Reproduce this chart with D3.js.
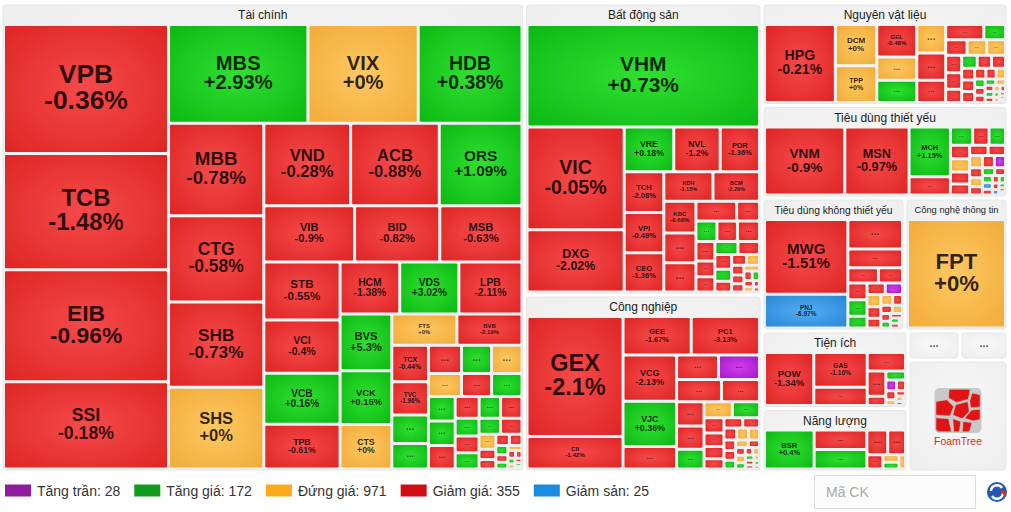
<!DOCTYPE html>
<html>
<head>
<meta charset="utf-8">
<script src="https://cdn.jsdelivr.net/npm/d3@7"></script>
<style>
  body { margin: 0; background: #fff; font-family: "Liberation Sans", Arial, sans-serif; }
</style>
</head>
<body>
<svg id="chart" width="1011" height="512"></svg>
<script>
// ---- data ----
// sector names and their total weight (top level of the map)
const sectorNames = ["Tài chính", "Bất động sản", "Công nghiệp", "Nguyên vật liệu", "Tiêu dùng thiết yếu",
  "Tiêu dùng không thiết yếu", "Công nghệ thông tin", "Tiện ích", "Năng lượng", "...", "...", "FoamTree"];
const sectorCap = [245522, 69350, 42038, 25215, 22755, 19019, 13699, 11315, 9271, 1508, 1392, 11200];

// stocks: [ticker ("" = hidden), weight, status, change]
// status: c = tăng trần, u = tăng, n = đứng giá, d = giảm, f = giảm sàn
const taiChinh = [
  ["VPB", 21138, "d", "-0.36%"], ["TCB", 19082, "d", "-1.48%"], ["EIB", 18342, "d", "-0.96%"], ["SSI", 14312, "d", "-0.18%"],
  ["MBS", 13692, "u", "+2.93%"], ["VIX", 10835, "n", "+0%"], ["HDB", 10195, "u", "+0.38%"],
  ["MBB", 8740, "d", "-0.78%"], ["CTG", 8170, "d", "-0.58%"], ["SHB", 8075, "d", "-0.73%"], ["SHS", 7743, "n", "+0%"],
  ["VND", 7100, "d", "-0.28%"], ["ACB", 7250, "d", "-0.88%"], ["ORS", 6765, "u", "+1.09%"],
  ["VIB", 5068, "d", "-0.9%"], ["BID", 4760, "d", "-0.82%"], ["MSB", 4592, "d", "-0.63%"],
  ["STB", 4408, "d", "-0.55%"], ["VCI", 4028, "d", "-0.4%"], ["VCB", 3876, "u", "+0.16%"], ["TPB", 3382, "d", "-0.61%"],
  ["HCM", 3094, "d", "-1.38%"], ["VDS", 3068, "u", "+3.02%"], ["LPB", 3276, "d", "-2.11%"],
  ["BVS", 2910, "u", "+5.3%"], ["VCK", 2755, "u", "+0.15%"], ["CTS", 2292, "n", "+0%"],
  ["FTS", 2015, "n", "+0%"], ["BVB", 2015, "d", "-2.19%"],
  ["TCX", 1332, "d", "-0.44%"], ["TVC", 1205, "d", "-1.96%"], ["", 1040, "u"], ["", 931, "u"],
  ["", 924, "d"], ["", 840, "u"], ["", 854, "n"],
  ["", 759, "n"], ["", 690, "d"], ["", 700, "u"],
  ["", 649, "u"], ["", 649, "u"], ["", 623, "d"],
  ["", 517, "d"], ["", 462, "u"], ["", 462, "d"],
  ["", 420, "u"], ["", 396, "d"], ["", 384, "u"],
  ["", 344, "u"], ["", 344, "d"],
  ["", 250, "n"], ["", 170, "d"], ["", 160, "d"], ["", 150, "d"], ["", 140, "d"], ["", 110, "u"], ["", 90, "d"],
  ["", 80, "u"], ["", 70, "n"], ["", 60, "d"], ["", 50, "d"], ["", 40, "u"], ["", 35, "n"], ["", 30, "d"], ["", 25, "u"], ["", 20, "d"]
];
const batDongSan = [
  ["VHM", 23900, "u", "+0.73%"], ["VIC", 10013, "d", "-0.05%"], ["DXG", 6065, "d", "-2.02%"],
  ["VRE", 2219, "u", "+0.18%"], ["NVL", 2079, "d", "-1.2%"], ["PDR", 1760, "d", "-1.36%"],
  ["TCH", 1620, "d", "-2.08%"], ["VPI", 1600, "d", "-0.49%"], ["CEO", 1560, "d", "-1.36%"],
  ["KDH", 1452, "d", "-1.15%"], ["BCM", 1374, "d", "-2.29%"],
  ["KBC", 1027, "d", "-0.68%"], ["", 955, "d"], ["", 943, "d"],
  ["", 814, "d"], ["", 457, "d"],
  ["", 430, "u"], ["", 420, "d"], ["", 451, "d"],
  ["", 370, "d"], ["", 300, "d"], ["", 290, "d"],
  ["", 300, "u"], ["", 280, "d"], ["", 250, "d"], ["", 200, "u"], ["", 180, "d"], ["", 160, "d"], ["", 140, "n"],
  ["", 120, "d"], ["", 110, "d"], ["", 100, "d"], ["", 90, "n"], ["", 80, "d"], ["", 70, "u"], ["", 60, "d"],
  ["", 50, "n"], ["", 40, "d"], ["", 30, "d"]
];
const congNghiep = [
  ["GEX", 11269, "d", "-2.1%"], ["CII", 3062, "d", "-1.42%"],
  ["GEE", 2573, "d", "-1.67%"], ["PC1", 2576, "d", "-3.13%"],
  ["VCG", 2420, "d", "-2.13%"], ["VJC", 2370, "u", "+0.36%"], ["", 1180, "d"],
  ["", 1001, "d"], ["", 979, "c"],
  ["", 983, "d"], ["", 832, "d"],
  ["", 650, "d"], ["", 622, "d"], ["", 534, "u"],
  ["", 441, "n"], ["", 422, "u"],
  ["", 300, "d"], ["", 260, "d"], ["", 240, "d"], ["", 200, "d"], ["", 190, "d"], ["", 170, "d"], ["", 150, "d"],
  ["", 140, "n"], ["", 130, "n"], ["", 120, "d"], ["", 110, "d"], ["", 100, "u"], ["", 90, "n"], ["", 80, "d"],
  ["", 75, "d"], ["", 70, "n"], ["", 60, "u"], ["", 55, "d"], ["", 50, "n"], ["", 45, "u"], ["", 40, "d"],
  ["", 35, "d"], ["", 30, "n"], ["", 25, "u"], ["", 20, "d"]
];
const nguyenVatLieu = [
  ["HPG", 5478, "d", "-0.21%"], ["DCM", 1697, "n", "+0%"], ["TPP", 1506, "n", "+0%"],
  ["GEL", 1285, "d", "-0.48%"], ["", 927, "n"], ["", 880, "u"],
  ["", 815, "n"], ["", 784, "d"], ["", 636, "d"],
  ["", 580, "d"], ["", 330, "u"], ["", 325, "d"],
  ["", 300, "n"], ["", 285, "n"], ["", 280, "d"], ["", 260, "d"], ["", 210, "d"], ["", 200, "u"], ["", 185, "d"],
  ["", 180, "d"], ["", 150, "d"], ["", 150, "d"], ["", 140, "d"], ["", 120, "d"], ["", 110, "d"], ["", 100, "n"],
  ["", 90, "u"], ["", 80, "d"], ["", 75, "d"], ["", 65, "u"], ["", 60, "n"], ["", 55, "d"], ["", 50, "u"],
  ["", 45, "d"], ["", 40, "n"], ["", 35, "d"], ["", 30, "u"], ["", 28, "n"], ["", 25, "d"], ["", 22, "u"], ["", 20, "d"]
];
const tieuDungThietYeu = [
  ["VNM", 5190, "d", "-0.9%"], ["MSN", 4159, "d", "-0.97%"], ["MCH", 1954, "u", "+1.15%"], ["", 720, "d"],
  ["", 384, "u"], ["", 284, "d"], ["", 284, "u"],
  ["", 250, "d"], ["", 240, "n"], ["", 220, "d"], ["", 200, "d"], ["", 180, "d"], ["", 170, "d"], ["", 150, "n"],
  ["", 140, "d"], ["", 130, "c"], ["", 120, "d"], ["", 110, "n"], ["", 100, "d"], ["", 90, "u"], ["", 80, "d"],
  ["", 70, "u"], ["", 60, "f"], ["", 55, "d"], ["", 50, "d"], ["", 45, "u"], ["", 40, "d"], ["", 35, "f"],
  ["", 30, "u"], ["", 25, "d"], ["", 20, "d"]
];
const tieuDungKhongThietYeu = [
  ["MWG", 5918, "d", "-1.51%"], ["PNJ", 2674, "f", "-6.97%"],
  ["", 1527, "d"], ["", 974, "d"], ["", 447, "d"], ["", 351, "d"],
  ["", 304, "d"], ["", 302, "u"], ["", 213, "u"],
  ["", 200, "d"], ["", 190, "c"], ["", 160, "n"], ["", 150, "d"], ["", 130, "d"], ["", 120, "n"], ["", 100, "d"],
  ["", 90, "d"], ["", 80, "n"], ["", 70, "d"], ["", 60, "u"], ["", 50, "d"], ["", 45, "u"], ["", 40, "d"], ["", 30, "n"]
];
const congNgheThongTin = [["FPT", 1, "n", "+0%"]];
const tienIch = [
  ["POW", 2674, "d", "-1.34%"], ["GAS", 1900, "d", "-1.16%"], ["", 1000, "d"],
  ["", 730, "d"], ["", 477, "d"], ["", 178, "d"], ["", 178, "u"],
  ["", 120, "c"], ["", 100, "d"], ["", 90, "d"], ["", 60, "n"], ["", 50, "d"], ["", 40, "n"], ["", 30, "d"], ["", 25, "d"]
];
const nangLuong = [
  ["BSR", 1882, "u", "+0.4%"], ["", 1000, "d"], ["", 1000, "u"],
  ["", 503, "d"], ["", 430, "d"], ["", 220, "d"], ["", 115, "n"], ["", 107, "u"], ["", 90, "n"]
];
const sectorStocks = [taiChinh, batDongSan, congNghiep, nguyenVatLieu, tieuDungThietYeu,
  tieuDungKhongThietYeu, congNgheThongTin, tienIch, nangLuong, [], [], []];

// legend
const legendStatus = ["c", "u", "n", "d", "f"];
const legendLabels = ["Tăng trần", "Tăng giá", "Đứng giá", "Giảm giá", "Giảm sản"];
const legendCounts = [28, 172, 971, 355, 25];

// ---- styles ----
const cellColor = {
  c: ["#d040f0", "#a516c6"], u: ["#30e030", "#0bb814"], n: ["#fdc862", "#f2ab38"],
  d: ["#f64a4a", "#de2424"], f: ["#52adf2", "#2886d6"]
};
const legendColor = { c: "#8f1b9e", u: "#0f9a1d", n: "#fbaa19", d: "#d10e12", f: "#1b8be0" };
const FONT = '"Liberation Sans", Arial, sans-serif';

const svg = d3.select("#chart");
const defs = svg.append("defs");
Object.entries(cellColor).forEach(([k, [c0, c1]]) => {
  const g = defs.append("radialGradient").attr("id", "cell-" + k)
    .attr("cx", "50%").attr("cy", "50%").attr("r", "72%");
  g.append("stop").attr("offset", "0%").attr("stop-color", c0);
  g.append("stop").attr("offset", "100%").attr("stop-color", c1);
});
const boxGrad = defs.append("radialGradient").attr("id", "box").attr("cx", "50%").attr("cy", "45%").attr("r", "75%");
boxGrad.append("stop").attr("offset", "0%").attr("stop-color", "#f8f8f8");
boxGrad.append("stop").attr("offset", "100%").attr("stop-color", "#ededed");

// ---- hierarchy ----
const rootData = {
  children: sectorNames.map((name, i) => {
    const list = sectorStocks[i];
    if (!list.length) return { name, kind: name === "FoamTree" ? "logo" : "more", value: sectorCap[i] };
    const total = d3.sum(list, s => s[1]);
    return {
      name, kind: "sector",
      children: list.map(s => ({ ticker: s[0], status: s[2], change: s[3] || "", value: s[1] * sectorCap[i] / total }))
    };
  })
};
const root = d3.hierarchy(rootData).sum(d => d.children ? 0 : d.value);

// squarified rows, preferring slightly wide cells (like FoamTree)
const aspectTarget = 1.2, tallPenalty = 1.65;
function cellCost(a) {
  return a >= aspectTarget ? Math.log(a / aspectTarget) : tallPenalty * Math.log(aspectTarget / a);
}
function foamTile(parent, x0, y0, x1, y1) {
  const nodes = parent.children;
  let value = parent.value, i0 = 0;
  while (i0 < nodes.length) {
    const dx = x1 - x0, dy = y1 - y0;
    const across = dx < dy;
    const rowCost = (i1) => {
      let s = 0;
      for (let i = i0; i < i1; i++) s += nodes[i].value;
      const t = (across ? dy : dx) * s / value;
      let worst = 0;
      for (let i = i0; i < i1; i++) {
        const len = (across ? dx : dy) * nodes[i].value / s;
        const a = across ? len / t : t / len;
        worst = Math.max(worst, cellCost(a));
      }
      return worst;
    };
    let i1 = i0 + 1, best = rowCost(i1);
    while (i1 < nodes.length) {
      const c = rowCost(i1 + 1);
      if (c > best) break;
      best = c; i1++;
    }
    const row = nodes.slice(i0, i1);
    const s = d3.sum(row, d => d.value);
    const rowParent = { children: row, value: s };
    if (across) {
      const y = i1 === nodes.length ? y1 : y0 + dy * s / value;
      d3.treemapDice(rowParent, x0, y0, x1, y);
      y0 = y;
    } else {
      const x = i1 === nodes.length ? x1 : x0 + dx * s / value;
      d3.treemapSlice(rowParent, x0, y0, x, y1);
      x0 = x;
    }
    value -= s; i0 = i1;
  }
}

d3.treemap()
  .size([1003, 465])
  .tile(foamTile)
  .paddingInner(d => d.depth === 0 ? 4 : 3)
  .paddingTop(d => d.depth === 1 ? 21 : 0)
  .paddingLeft(d => d.depth === 1 ? 2 : 0)
  .paddingRight(d => d.depth === 1 ? 2 : 0)
  .paddingBottom(d => d.depth === 1 ? 2.5 : 0)(root);

const ctx = document.createElement("canvas").getContext("2d");
function emWidth(text, weight) {
  ctx.font = weight + " 100px " + FONT;
  return ctx.measureText(text).width / 100;
}

const map = svg.append("g").attr("transform", "translate(3,5)");

// group boxes
const groups = root.children;
map.selectAll("rect.group").data(groups).join("rect")
  .attr("class", "group")
  .attr("x", d => d.x0).attr("y", d => d.y0)
  .attr("width", d => d.x1 - d.x0).attr("height", d => d.y1 - d.y0)
  .attr("rx", 3)
  .attr("fill", "url(#box)")
  .attr("stroke", "#e6e6e6").attr("stroke-width", 1);

// group titles
groups.filter(d => d.data.kind === "sector").forEach(d => {
  const w = d.x1 - d.x0;
  const fs = Math.min(12, 0.85 * w / emWidth(d.data.name, "normal"));
  map.append("text")
    .attr("x", (d.x0 + d.x1) / 2).attr("y", d.y0 + 9.8 + 0.36 * fs)
    .attr("text-anchor", "middle")
    .attr("font-family", FONT).attr("font-size", fs).attr("fill", "#1c1c1c")
    .text(d.data.name);
});

// collapsed groups
groups.filter(d => d.data.kind === "more").forEach(d => {
  map.append("text")
    .attr("x", (d.x0 + d.x1) / 2).attr("y", (d.y0 + d.y1) / 2 + 1.5)
    .attr("text-anchor", "middle")
    .attr("font-family", FONT).attr("font-size", 11).attr("font-weight", "bold").attr("fill", "#555")
    .text("...");
});

// FoamTree attribution
groups.filter(d => d.data.kind === "logo").forEach(d => {
  const cx = (d.x0 + d.x1) / 2, cy = (d.y0 + d.y1) / 2;
  const size = 47;
  const lg = map.append("g").attr("transform", `translate(${cx - size / 2},${cy - 28})`);
  lg.append("rect").attr("width", size).attr("height", size * 0.96).attr("rx", 5).attr("fill", "#c9c9c9");
  const cells = [
    [[3.1, 0.3], [7.6, 0.3], [7.2, 2.5], [4.7, 3.2], [3.0, 2.2]],
    [[8.0, 1.1], [9.7, 1.5], [9.7, 4.2], [7.7, 4.4], [7.5, 2.8]],
    [[0.3, 3.0], [2.6, 2.6], [4.1, 4.1], [3.3, 6.2], [0.3, 6.0]],
    [[4.5, 3.7], [7.1, 3.0], [7.4, 5.2], [5.9, 6.8], [3.9, 6.0]],
    [[0.3, 6.6], [3.0, 6.8], [3.6, 9.7], [0.8, 9.7], [0.3, 9.2]],
    [[3.9, 6.8], [5.6, 7.4], [5.3, 9.7], [4.1, 9.7]],
    [[7.9, 4.9], [9.7, 4.7], [9.7, 7.0], [8.2, 7.3], [6.4, 6.7]],
    [[6.1, 7.4], [8.0, 7.7], [7.4, 9.7], [5.9, 9.7]]
  ];
  lg.selectAll("polygon").data(cells).join("polygon")
    .attr("points", c => c.map(p => [p[0] * size / 10, p[1] * size * 0.96 / 10].join(",")).join(" "))
    .attr("fill", "#e01414").attr("stroke", "#c9c9c9").attr("stroke-width", 0.6).attr("stroke-linejoin", "round");
  map.append("text")
    .attr("x", cx).attr("y", cy + 29)
    .attr("text-anchor", "middle")
    .attr("font-family", FONT).attr("font-size", 10.5).attr("fill", "#d62a2a")
    .text("FoamTree");
});

// stock cells
const leaves = root.leaves().filter(d => d.depth === 2 && d.x1 - d.x0 > 0.5 && d.y1 - d.y0 > 0.5);
map.selectAll("rect.cell").data(leaves).join("rect")
  .attr("class", "cell")
  .attr("x", d => d.x0).attr("y", d => d.y0)
  .attr("width", d => d.x1 - d.x0).attr("height", d => d.y1 - d.y0)
  .attr("rx", 1)
  .attr("fill", d => "url(#cell-" + d.data.status + ")");

leaves.forEach(d => {
  const w = d.x1 - d.x0, h = d.y1 - d.y0;
  const cx = (d.x0 + d.x1) / 2, cy = (d.y0 + d.y1) / 2;
  if (d.data.ticker) {
    const em = Math.max(emWidth(d.data.ticker, "bold"), emWidth(d.data.change, "bold"));
    const fs = Math.min(0.21 * h, 0.66 * w / em);
    if (fs < 3) return;
    // one text element, two lines
    const t = map.append("text")
      .attr("font-family", FONT).attr("font-weight", "bold").attr("font-size", fs)
      .attr("text-anchor", "middle").attr("fill", "#000").attr("fill-opacity", 0.82);
    t.append("tspan").attr("x", cx).attr("y", cy - 0.22 * fs).text(d.data.ticker);
    t.append("tspan").attr("x", cx).attr("y", cy + 0.77 * fs).text(d.data.change);
  } else if (h >= 8 && w >= 12) {
    const fs = Math.min(10.5, 0.4 * h);
    map.append("text").attr("x", cx).attr("y", cy + 0.12 * fs)
      .attr("text-anchor", "middle")
      .attr("font-family", FONT).attr("font-weight", "bold").attr("font-size", fs)
      .attr("fill", "#000").attr("fill-opacity", 0.6)
      .text("...");
  }
});

// ---- legend ----
const legend = svg.append("g").attr("font-family", FONT).attr("font-size", 14).attr("fill", "#333");
let lx = 5;
legendStatus.forEach((k, i) => {
  legend.append("rect").attr("x", lx).attr("y", 484.5).attr("width", 26).attr("height", 12).attr("fill", legendColor[k]);
  const label = legendLabels[i] + ": " + legendCounts[i];
  legend.append("text").attr("x", lx + 32).attr("y", 495.5).text(label);
  lx += 32 + emWidth(label, "normal") * 14 + 14;
});

// search box and icon
svg.append("rect").attr("x", 814.5).attr("y", 475.5).attr("width", 161).attr("height", 33)
  .attr("fill", "#fcfcfc").attr("stroke", "#dcdcdc");
svg.append("text").attr("x", 826).attr("y", 497).attr("font-family", FONT).attr("font-size", 14)
  .attr("fill", "#a8a8a8").text("Mã CK");
const icon = svg.append("g").attr("transform", "translate(997,492)");
icon.append("circle").attr("r", 10).attr("fill", "#2258b8");
icon.append("path").attr("d", "M-6,-1 A6,6 0 0 1 5,-4").attr("stroke", "#fff").attr("stroke-width", 2.4).attr("fill", "none");
icon.append("path").attr("d", "M6,1 A6,6 0 0 1 -5,4").attr("stroke", "#fff").attr("stroke-width", 2.4).attr("fill", "none");
icon.append("path").attr("d", "M3,-2 L9,-1 L8,5 Z").attr("fill", "#e0262a");
</script>
</body>
</html>
